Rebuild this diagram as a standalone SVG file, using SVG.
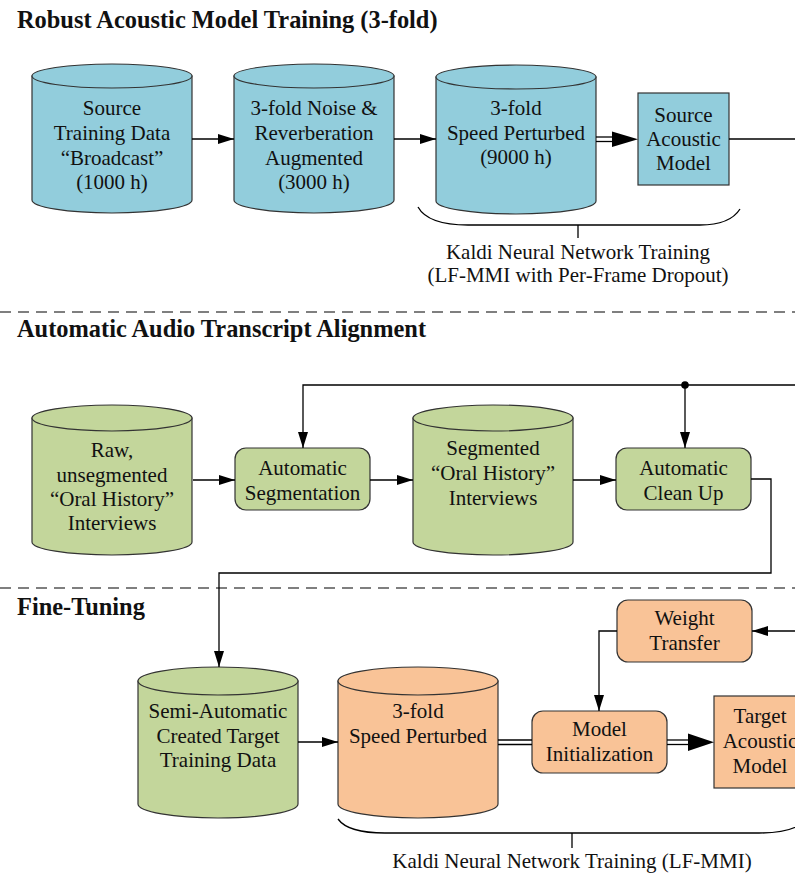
<svg xmlns="http://www.w3.org/2000/svg" width="795" height="876" viewBox="0 0 795 876">
<defs>
<style>
text{font-family:"Liberation Serif","Times New Roman",serif;fill:#111}
.t{font-size:21px;text-anchor:middle}
.h{font-size:24.4px;font-weight:bold}
.blue{fill:#92CDDC}
.green{fill:#C3D69B}
.orange{fill:#F9C397}
.shape{stroke:#333;stroke-width:1.2}
.line{fill:none;stroke:#000;stroke-width:1.3}
.dash{fill:none;stroke:#555;stroke-width:1.3;stroke-dasharray:11 7}
</style>
<marker id="arr" markerUnits="userSpaceOnUse" markerWidth="16" markerHeight="10" refX="16" refY="5" orient="auto">
<path d="M0,0 L16,5 L0,10 Z" fill="#000"/>
</marker>
</defs>
<rect width="795" height="876" fill="#fff"/>

<!-- section titles and separators -->
<text class="h" x="17" y="27.5">Robust Acoustic Model Training (3-fold)</text>
<line class="dash" x1="0" y1="312" x2="795" y2="312"/>
<text class="h" x="17" y="337">Automatic Audio Transcript Alignment</text>
<line class="dash" x1="0" y1="588" x2="795" y2="588"/>
<text class="h" x="17" y="615">Fine-Tuning</text>

<!-- Section 1 nodes -->
<g id="source-data">
<path class="blue shape" d="M32,76 V200 A80,13 0 0 0 192,200 V76 Z"/>
<ellipse class="blue shape" cx="112" cy="76" rx="80" ry="12"/>
<text class="t" x="112" y="115">Source</text>
<text class="t" x="112" y="140">Training Data</text>
<text class="t" x="112" y="164.5">“Broadcast”</text>
<text class="t" x="112" y="189">(1000 h)</text>
</g>
<g id="noise-augmented">
<path class="blue shape" d="M234,76 V200 A80,13 0 0 0 394,200 V76 Z"/>
<ellipse class="blue shape" cx="314" cy="76" rx="80" ry="12"/>
<text class="t" x="314" y="115">3-fold Noise &amp;</text>
<text class="t" x="314" y="140">Reverberation</text>
<text class="t" x="314" y="164.5">Augmented</text>
<text class="t" x="314" y="189">(3000 h)</text>
</g>
<g id="speed-perturbed-1">
<path class="blue shape" d="M436,77 V201 A80,13 0 0 0 596,201 V77 Z"/>
<ellipse class="blue shape" cx="516" cy="77" rx="80" ry="12"/>
<text class="t" x="516" y="115">3-fold</text>
<text class="t" x="516" y="140">Speed Perturbed</text>
<text class="t" x="516" y="164">(9000 h)</text>
</g>
<g id="source-model">
<rect class="blue shape" x="638" y="93" width="91" height="92"/>
<text class="t" x="683.5" y="122">Source</text>
<text class="t" x="683.5" y="146">Acoustic</text>
<text class="t" x="683.5" y="170">Model</text>
</g>
<g id="brace-1">
<path class="line" d="M418,207 Q428,225 468,225 H700 Q730,225 740,209"/>
<line class="line" x1="578" y1="225" x2="578" y2="238"/>
<text class="t" x="578" y="259">Kaldi Neural Network Training</text>
<text class="t" x="578" y="282">(LF-MMI with Per-Frame Dropout)</text>
</g>

<!-- Section 2 nodes -->
<g id="raw-interviews">
<path class="green shape" d="M32,418 V542 A80,13 0 0 0 192,542 V418 Z"/>
<ellipse class="green shape" cx="112" cy="418" rx="80" ry="13"/>
<text class="t" x="112" y="457">Raw,</text>
<text class="t" x="112" y="482">unsegmented</text>
<text class="t" x="112" y="506">“Oral History”</text>
<text class="t" x="112" y="530">Interviews</text>
</g>
<g id="auto-segmentation">
<rect class="green shape" x="235" y="448" width="135" height="62" rx="11"/>
<text class="t" x="302.5" y="475">Automatic</text>
<text class="t" x="302.5" y="500">Segmentation</text>
</g>
<g id="segmented-interviews">
<path class="green shape" d="M413,418 V542 A80,13 0 0 0 573,542 V418 Z"/>
<ellipse class="green shape" cx="493" cy="418" rx="80" ry="13"/>
<text class="t" x="493" y="455">Segmented</text>
<text class="t" x="493" y="480">“Oral History”</text>
<text class="t" x="493" y="505">Interviews</text>
</g>
<g id="auto-cleanup">
<rect class="green shape" x="616" y="448" width="135" height="62" rx="11"/>
<text class="t" x="683.5" y="475">Automatic</text>
<text class="t" x="683.5" y="500">Clean Up</text>
</g>

<!-- Section 3 nodes -->
<g id="semi-auto-data">
<path class="green shape" d="M138,681 V804 A80,14 0 0 0 298,804 V681 Z"/>
<ellipse class="green shape" cx="218" cy="681" rx="80" ry="14"/>
<text class="t" x="218" y="718">Semi-Automatic</text>
<text class="t" x="218" y="743">Created Target</text>
<text class="t" x="218" y="767">Training Data</text>
</g>
<g id="speed-perturbed-2">
<path class="orange shape" d="M338,681 V804 A80,14 0 0 0 498,804 V681 Z"/>
<ellipse class="orange shape" cx="418" cy="681" rx="80" ry="14"/>
<text class="t" x="418" y="718">3-fold</text>
<text class="t" x="418" y="743">Speed Perturbed</text>
</g>
<g id="weight-transfer">
<rect class="orange shape" x="617" y="600" width="135" height="62" rx="11"/>
<text class="t" x="684.5" y="625">Weight</text>
<text class="t" x="684.5" y="650">Transfer</text>
</g>
<g id="model-init">
<rect class="orange shape" x="532" y="711" width="135" height="62" rx="11"/>
<text class="t" x="599.5" y="736">Model</text>
<text class="t" x="599.5" y="761">Initialization</text>
</g>
<g id="target-model">
<rect class="orange shape" x="714" y="696" width="92" height="92"/>
<text class="t" x="760" y="723">Target</text>
<text class="t" x="760" y="748">Acoustic</text>
<text class="t" x="760" y="773">Model</text>
</g>
<g id="brace-2">
<path class="line" d="M338,819 Q348,833 385,833 H759 Q796,833 806,819"/>
<line class="line" x1="572" y1="833" x2="572" y2="848"/>
<text class="t" x="572" y="868">Kaldi Neural Network Training (LF-MMI)</text>
</g>

<!-- connectors -->
<g id="connectors">
<line class="line" x1="192" y1="139" x2="234" y2="139" marker-end="url(#arr)"/>
<line class="line" x1="394" y1="139" x2="436" y2="139" marker-end="url(#arr)"/>
<line class="line" x1="596" y1="137" x2="614" y2="137"/>
<line class="line" x1="596" y1="141.5" x2="614" y2="141.5"/>
<path d="M612,131.5 L638,139.3 L612,147 Z" fill="#000"/>
<line class="line" x1="729" y1="139" x2="795" y2="139"/>

<line class="line" x1="193" y1="480" x2="235" y2="480" marker-end="url(#arr)"/>
<line class="line" x1="370" y1="480" x2="413" y2="480" marker-end="url(#arr)"/>
<line class="line" x1="573" y1="480" x2="616" y2="480" marker-end="url(#arr)"/>
<polyline class="line" points="795,385 303,385 303,448" marker-end="url(#arr)"/>
<line class="line" x1="685" y1="385" x2="685" y2="448" marker-end="url(#arr)"/>
<circle cx="685" cy="385" r="3.8" fill="#000"/>
<polyline class="line" points="751,479 771,479 771,573 219,573 219,667" marker-end="url(#arr)"/>

<line class="line" x1="298" y1="742" x2="338" y2="742" marker-end="url(#arr)"/>
<line class="line" x1="498" y1="740" x2="532" y2="740"/>
<line class="line" x1="498" y1="744.5" x2="532" y2="744.5"/>
<line class="line" x1="667" y1="740" x2="690" y2="740"/>
<line class="line" x1="667" y1="744.5" x2="690" y2="744.5"/>
<path d="M688,733.5 L714,742.3 L688,751 Z" fill="#000"/>
<line class="line" x1="795" y1="631" x2="752" y2="631" marker-end="url(#arr)"/>
<polyline class="line" points="617,631 599,631 599,711" marker-end="url(#arr)"/>
</g>
</svg>
